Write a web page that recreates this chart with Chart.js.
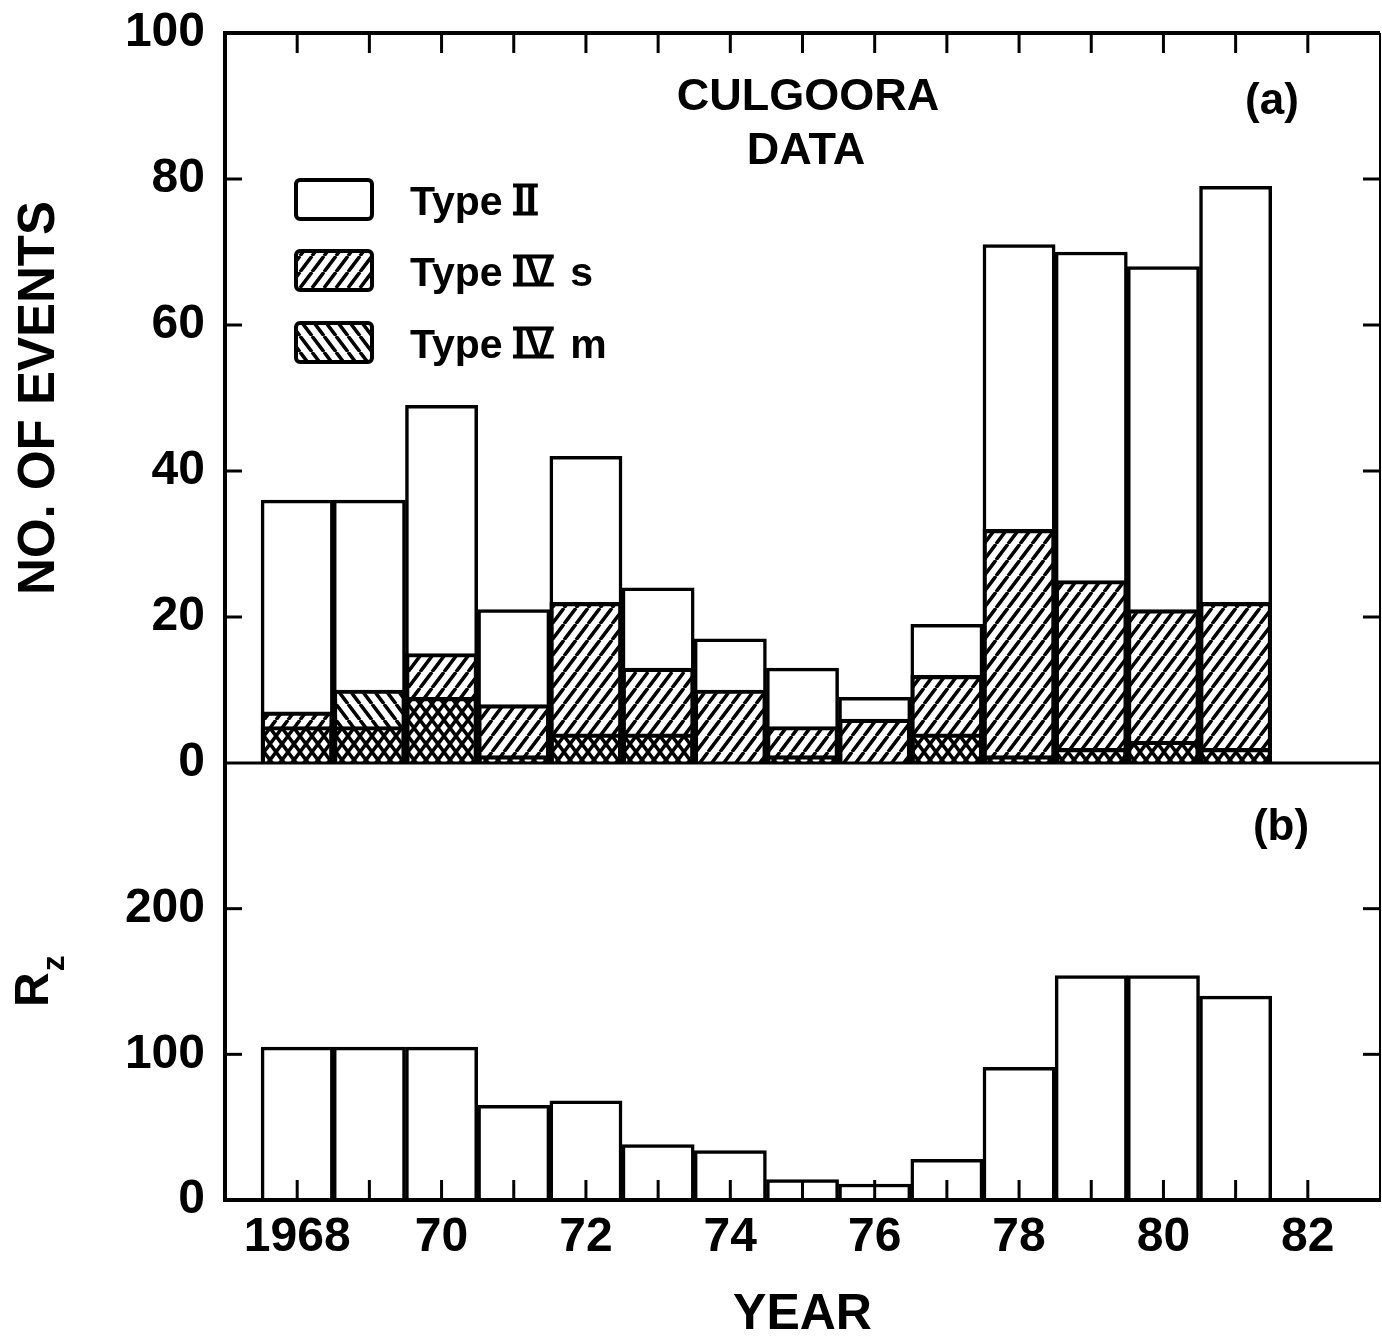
<!DOCTYPE html>
<html>
<head>
<meta charset="utf-8">
<script src="https://cdn.jsdelivr.net/npm/chart.js@4.4.0/dist/chart.umd.min.js"></script>
<style>
  body { margin: 0; background: #fff; }
  #wrap { position: relative; width: 1382px; height: 1339px; background: #fff; }
  canvas { position: absolute; left: 0; }
  #top { top: 0; }
  #bottom { top: 723px; }
</style>
</head>
<body>
<div id="wrap">
  <canvas id="bottom" width="1382" height="616"></canvas>
  <canvas id="top" width="1382" height="800"></canvas>
</div>
<script>
// data
const years = [1968, 1969, 1970, 1971, 1972, 1973, 1974, 1975, 1976, 1977, 1978, 1979, 1980, 1981];
const typeII = [36, 36, 49, 21, 42, 24, 17, 13, 9, 19, 71, 70, 68, 79];
const typeIVs = [7, 5, 15, 8, 22, 13, 10, 5, 6, 12, 32, 25, 21, 22];
const typeIVm = [5, 10, 9, 1, 4, 4, 0, 1, 0, 4, 1, 2, 3, 2];
const sunspotRz = [105, 105, 105, 65, 68, 38, 34, 14, 11, 28, 91, 154, 154, 140];

const eventTicks = [0, 20, 40, 60, 80, 100];
const rzTicks = [0, 100, 200, 300];
const rzTickLabels = ['0', '100', '200', ''];
const yearTicks = [1968, 1970, 1972, 1974, 1976, 1978, 1980, 1982];
const yearTickLabels = ['1968', '70', '72', '74', '76', '78', '80', '82'];
const yearMin = 1967, yearMax = 1983;

const FONT = "'Liberation Sans', 'DejaVu Sans', sans-serif";
const W = '600 ';

function makeHatch(dir) {
    const w = 12, h = 16;
    const c = document.createElement('canvas');
    c.width = w; c.height = h;
    const g = c.getContext('2d');
    g.strokeStyle = '#000';
    g.lineWidth = 3.5;
    g.beginPath();
    for (const dx of [-w, 0, w]) {
        if (dir === 'up') { g.moveTo(dx, h); g.lineTo(dx + w, 0); }
        else { g.moveTo(dx, 0); g.lineTo(dx + w, h); }
    }
    g.stroke();
    return g.createPattern(c, 'repeat');
}

const hatchUp = makeHatch('up');
const hatchDown = makeHatch('down');

function line(ctx, x1, y1, x2, y2, w) {
    ctx.lineWidth = w;
    ctx.beginPath();
    ctx.moveTo(x1, y1);
    ctx.lineTo(x2, y2);
    ctx.stroke();
}

// roman numerals get the bar above and below, like the lettering in the figure
function drawTypeLabel(ctx, text, x, baseline, capH) {
    const parts = text.split(/(II|IV)/);
    parts.forEach(p => {
        if (!p) return;
        const w = ctx.measureText(p).width;
        ctx.fillText(p, x, baseline);
        if (p === 'II' || p === 'IV') {
            line(ctx, x - 1, baseline - capH + 1, x + w + 1, baseline - capH + 1, 4);
            line(ctx, x - 1, baseline - 1, x + w + 1, baseline - 1, 4);
        }
        x += w + (p === 'II' || p === 'IV' ? 6 : 0);
    });
}

const barCommon = {
    borderColor: '#000',
    borderWidth: 3.5,
    barPercentage: 1,
    categoryPercentage: 1,
    grouped: false
};

function xy(vals) {
    return vals.map((v, i) => ({ x: years[i], y: v }));
}

function noPad(s) {
    s.paddingTop = 0;
    s.paddingBottom = 0;
    s.paddingLeft = 0;
    s.paddingRight = 0;
}

// frame, inward ticks, legend and labels of panel (a)
const topDecor = {
    id: 'topDecor',
    afterDraw(chart) {
        const { ctx, chartArea: a, scales: { x, y } } = chart;
        ctx.save();
        ctx.strokeStyle = '#000';
        ctx.fillStyle = '#000';
        line(ctx, a.left, a.top - 2, a.left, a.bottom + 2, 4);
        line(ctx, a.left - 2, a.top, a.right, a.top, 4);
        line(ctx, a.right, a.top, a.right, a.bottom, 2);
        line(ctx, a.left, a.bottom, a.right + 1, a.bottom, 3);
        for (let yr = yearMin + 1; yr < yearMax; yr++) {
            const px = x.getPixelForValue(yr);
            line(ctx, px, a.top, px, a.top + 20, 3);
        }
        y.ticks.forEach(t => {
            if (t.value <= y.min || t.value >= y.max) return;
            const py = y.getPixelForValue(t.value);
            line(ctx, a.left, py, a.left + 17, py, 3);
            line(ctx, a.right, py, a.right - 17, py, 3);
        });

        ctx.textAlign = 'center';
        ctx.textBaseline = 'middle';
        ctx.font = W + '45px ' + FONT;
        ctx.fillText('CULGOORA', 808, 98);
        ctx.fillText('DATA', 806, 152);
        ctx.font = W + '44px ' + FONT;
        ctx.fillText('(a)', 1272, 102);

        // legend
        const fills = [null, hatchUp, hatchDown];
        const rowTops = [180, 251, 323];
        ctx.textAlign = 'left';
        ctx.textBaseline = 'alphabetic';
        ctx.font = W + '41px ' + FONT;
        chart.data.datasets.forEach((ds, i) => {
            const bx = 296, by = rowTops[i], bw = 76, bh = 39;
            ctx.fillStyle = '#fff';
            ctx.fillRect(bx, by, bw, bh);
            if (fills[i]) {
                ctx.fillStyle = fills[i];
                ctx.fillRect(bx, by, bw, bh);
            }
            ctx.lineWidth = 4;
            ctx.beginPath();
            ctx.roundRect(bx, by, bw, bh, 4);
            ctx.stroke();
            ctx.fillStyle = '#000';
            drawTypeLabel(ctx, ds.label, 410, by + bh / 2 + 15, 30);
        });
        ctx.restore();
    }
};

const bottomDecor = {
    id: 'bottomDecor',
    afterDraw(chart) {
        const { ctx, chartArea: a, scales: { x, y } } = chart;
        ctx.save();
        ctx.strokeStyle = '#000';
        ctx.fillStyle = '#000';
        line(ctx, a.left, a.top, a.left, a.bottom + 2, 4);
        line(ctx, a.left - 2, a.bottom, a.right + 1, a.bottom, 4);
        line(ctx, a.right, a.top, a.right, a.bottom, 2);
        for (let yr = yearMin + 1; yr < yearMax; yr++) {
            const px = x.getPixelForValue(yr);
            line(ctx, px, a.bottom, px, a.bottom - 20, 3);
        }
        y.ticks.forEach(t => {
            if (t.value <= y.min || t.value >= y.max) return;
            const py = y.getPixelForValue(t.value);
            line(ctx, a.left, py, a.left + 17, py, 3);
            line(ctx, a.right, py, a.right - 17, py, 3);
        });

        ctx.textAlign = 'center';
        ctx.textBaseline = 'middle';
        ctx.font = W + '44px ' + FONT;
        ctx.fillText('(b)', 1281, 105);

        // R with subscript z, rotated
        ctx.translate(48, 284);
        ctx.rotate(-Math.PI / 2);
        ctx.textAlign = 'left';
        ctx.textBaseline = 'alphabetic';
        ctx.font = W + '48px ' + FONT;
        ctx.fillText('R', 0, 0);
        const rw = ctx.measureText('R').width;
        ctx.font = W + '32px ' + FONT;
        ctx.fillText('z', rw + 1, 16);
        ctx.restore();
    }
};

new Chart(document.getElementById('top'), {
    type: 'bar',
    data: {
        datasets: [
            { ...barCommon, label: 'Type II', data: xy(typeII), backgroundColor: '#fff', order: 3 },
            { ...barCommon, label: 'Type IV s', data: xy(typeIVs), backgroundColor: hatchUp, order: 2 },
            { ...barCommon, label: 'Type IV m', data: xy(typeIVm), backgroundColor: hatchDown, order: 1 }
        ]
    },
    options: {
        responsive: false,
        animation: false,
        layout: { padding: { top: 33, right: 2, bottom: 37, left: 0 } },
        plugins: { legend: { display: false }, tooltip: { enabled: false } },
        scales: {
            x: { type: 'linear', display: false, min: yearMin, max: yearMax, offset: false },
            y: {
                min: 0,
                max: 100,
                afterBuildTicks: s => { s.ticks = eventTicks.map(v => ({ value: v })); },
                afterFit: s => { s.width = 225; noPad(s); },
                grid: { display: false, drawTicks: false },
                border: { display: false },
                ticks: { color: '#000', padding: 20, font: { family: FONT, size: 48, weight: 600 } },
                title: {
                    display: true,
                    text: 'NO. OF EVENTS',
                    color: '#000',
                    font: { family: FONT, size: 51, weight: 600 },
                    padding: { top: 9, bottom: 0 }
                }
            }
        }
    },
    plugins: [topDecor]
});

new Chart(document.getElementById('bottom'), {
    type: 'bar',
    data: {
        datasets: [
            { ...barCommon, label: 'Rz', data: xy(sunspotRz), backgroundColor: '#fff' }
        ]
    },
    options: {
        responsive: false,
        animation: false,
        layout: { padding: { top: 40, right: 2, bottom: 0, left: 0 } },
        plugins: { legend: { display: false }, tooltip: { enabled: false } },
        scales: {
            x: {
                type: 'linear',
                min: yearMin,
                max: yearMax,
                offset: false,
                afterBuildTicks: s => { s.ticks = yearTicks.map(v => ({ value: v })); },
                afterFit: s => { s.height = 139; noPad(s); },
                grid: { display: false, drawTicks: false },
                border: { display: false },
                ticks: {
                    color: '#000',
                    padding: 9,
                    maxRotation: 0,
                    autoSkip: false,
                    font: { family: FONT, size: 48, weight: 600 },
                    callback: (v, i) => yearTickLabels[i]
                },
                title: {
                    display: true,
                    text: 'YEAR',
                    color: '#000',
                    font: { family: FONT, size: 50, weight: 600, lineHeight: 0.95 },
                    padding: { top: 0, bottom: 0 }
                }
            },
            y: {
                min: 0,
                max: 300,
                afterBuildTicks: s => { s.ticks = rzTicks.map(v => ({ value: v })); },
                afterFit: s => { s.width = 225; noPad(s); },
                grid: { display: false, drawTicks: false },
                border: { display: false },
                ticks: {
                    color: '#000',
                    padding: 20,
                    font: { family: FONT, size: 48, weight: 600 },
                    callback: (v, i) => rzTickLabels[i]
                }
            }
        }
    },
    plugins: [bottomDecor]
});
</script>
</body>
</html>
